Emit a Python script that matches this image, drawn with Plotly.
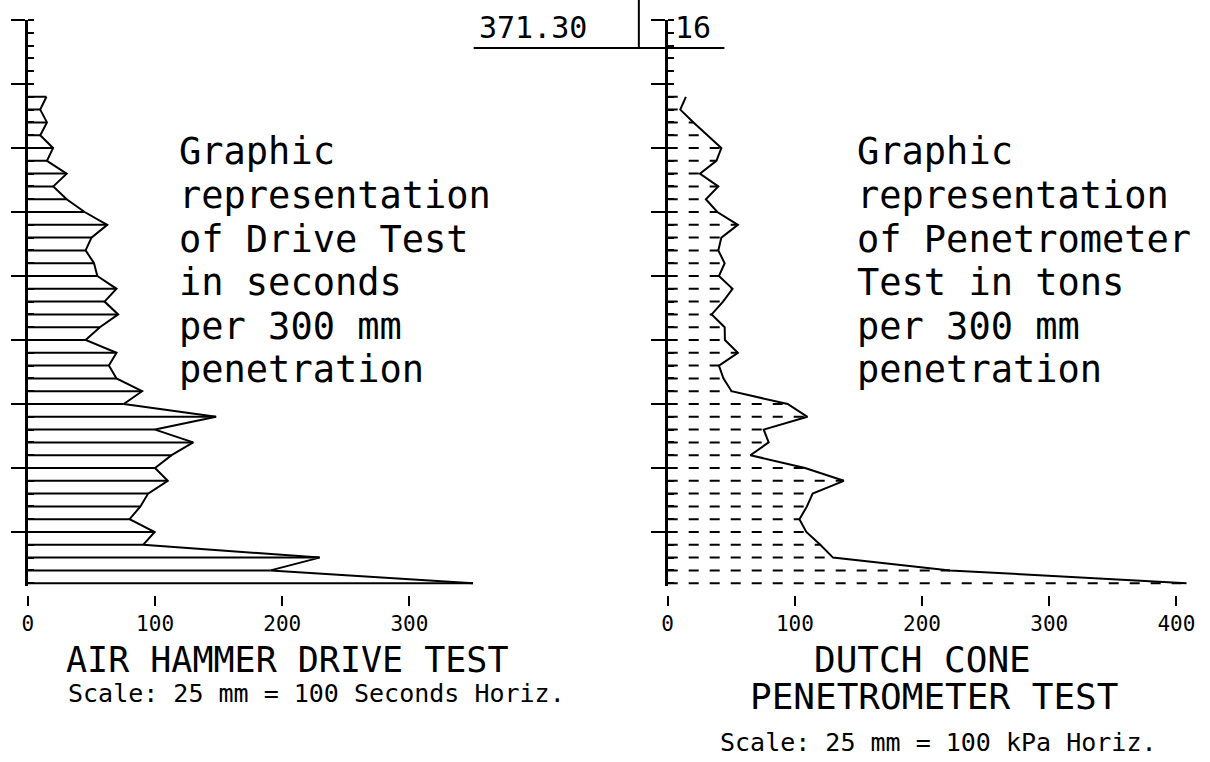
import plotly.graph_objects as go

# ---------------- data ----------------
# depth index: one step = 300 mm of penetration, 0 at top of the log
depths = list(range(6, 45))

# Air hammer drive test, seconds per 300 mm
drive_seconds = [14.6, 9.7, 15, 9.7, 19.8, 15, 30.5, 20, 30.5, 44.6,
                 62.4, 50, 45.4, 52, 54.6, 69.7, 60.3, 71, 56.6, 45.4,
                 69.7, 63.7, 69.7, 89.8, 75.4, 148, 100, 130, 113, 100,
                 110, 94.5, 88.5, 80, 99.7, 90.6, 229.4, 190.8, 350]

# Dutch cone penetrometer test, kPa
cone_kpa = [14.3, 9.9, 20.3, 31.3, 42.2, 38.3, 25.3, 39.8, 30, 39,
            55.2, 42.2, 39.8, 44.8, 40.3, 51, 43.5, 34.6, 44.8, 45,
            55.2, 40.3, 43.8, 50.2, 94.3, 109.9, 75.5, 79.4, 65, 108,
            138.5, 114, 109.5, 103.6, 109, 120, 130, 222, 408]

drive_ticks = [0, 100, 200, 300]
cone_ticks = [0, 100, 200, 300, 400]
depth_major = list(range(0, 41, 5))

header_left = "371.30"
header_right = "16"

drive_note = ["Graphic", "representation", "of Drive Test", "in seconds",
              "per 300 mm", "penetration"]
cone_note = ["Graphic", "representation", "of Penetrometer", "Test in tons",
             "per 300 mm", "penetration"]

# ---------------- layout helpers ----------------
W, H = 1210, 762
FONT = "DejaVu Sans Mono"
K = 1.278          # px per unit horizontally
DY = 12.8          # px per depth step
TOP = 20


def fx(p):
    return p / W


def fy(p):
    return 1 - p / H


def bars(vals, ds):
    xs, ys = [], []
    for v, d in zip(vals, ds):
        xs += [0, v, None]
        ys += [d, d, None]
    return xs, ys


fig = go.Figure()

bx, by = bars(drive_seconds, depths)
fig.add_trace(go.Scatter(x=bx, y=by, mode="lines", xaxis="x", yaxis="y",
                         line=dict(color="black", width=2), hoverinfo="skip"))
fig.add_trace(go.Scatter(x=drive_seconds, y=depths, mode="lines", xaxis="x", yaxis="y",
                         line=dict(color="black", width=2)))

cx, cy = bars(cone_kpa, depths)
fig.add_trace(go.Scatter(x=cx, y=cy, mode="lines", xaxis="x2", yaxis="y2",
                         line=dict(color="black", width=2, dash="10px,11px"),
                         hoverinfo="skip"))
fig.add_trace(go.Scatter(x=cone_kpa, y=depths, mode="lines", xaxis="x2", yaxis="y2",
                         line=dict(color="black", width=2)))

YMAX = 44.2
ydom = [fy(TOP + YMAX * DY), fy(TOP)]

xcommon = dict(anchor="free", position=fy(595), showline=False, showgrid=False,
               zeroline=False, ticks="outside", ticklen=10, tickwidth=2,
               tickcolor="black", tickfont=dict(family=FONT, size=21, color="black"))
ycommon = dict(domain=ydom, range=[YMAX, 0], showline=True, linewidth=3,
               linecolor="black", showgrid=False, zeroline=False,
               tickmode="array", tickvals=depth_major, ticks="outside",
               ticklen=14, tickwidth=2, tickcolor="black", showticklabels=False,
               minor=dict(tickmode="linear", tick0=0, dtick=1, ticks="inside",
                          ticklen=6, tickwidth=2, tickcolor="black"))

L0 = 22
R0 = 665
fig.update_layout(
    width=W, height=H,
    margin=dict(l=0, r=0, t=0, b=0),
    paper_bgcolor="white", plot_bgcolor="white",
    showlegend=False,
    xaxis=dict(domain=[fx(L0), fx(L0 + 360 * K)], range=[0, 360],
               tickmode="array", tickvals=drive_ticks, **xcommon),
    yaxis=dict(anchor="x", **ycommon),
    xaxis2=dict(domain=[fx(R0), fx(R0 + 420 * K)], range=[0, 420],
                tickmode="array", tickvals=cone_ticks, **xcommon),
    yaxis2=dict(anchor="x2", **ycommon),
)

ann = []


def text(s, x, y, size, xanchor="center"):
    ann.append(dict(text=s, x=fx(x), y=fy(y), xref="paper", yref="paper",
                    xanchor=xanchor, yanchor="middle", showarrow=False,
                    font=dict(family=FONT, size=size, color="black")))


for i, line in enumerate(drive_note):
    text(line, 172, 152 + i * 43.6, 37, "left")
for i, line in enumerate(cone_note):
    text(line, 853, 152 + i * 43.6, 37, "left")

text("AIR HAMMER DRIVE TEST", 283, 660, 35)
text("Scale: 25 mm = 100 Seconds Horiz.", 312, 693, 25)
text("DUTCH CONE", 921, 659, 36)
text("PENETROMETER TEST", 933, 696, 36)
text("Scale: 25 mm = 100 kPa Horiz.", 937, 742, 25)
text(header_left, 530, 28, 30)
text(header_right, 690, 28, 30)

fig.update_layout(annotations=ann)

# header table lines
fig.add_shape(type="line", xref="paper", yref="paper", x0=fx(470), x1=fx(722),
              y0=fy(48), y1=fy(48), line=dict(color="black", width=2))
fig.add_shape(type="line", xref="paper", yref="paper", x0=fx(636), x1=fx(636),
              y0=fy(0), y1=fy(48), line=dict(color="black", width=2))

fig.write_html("out.html",
               config={"displayModeBar": False},
               post_script="document.body.style.margin='0px';"
                           "document.body.style.overflow='hidden';")
